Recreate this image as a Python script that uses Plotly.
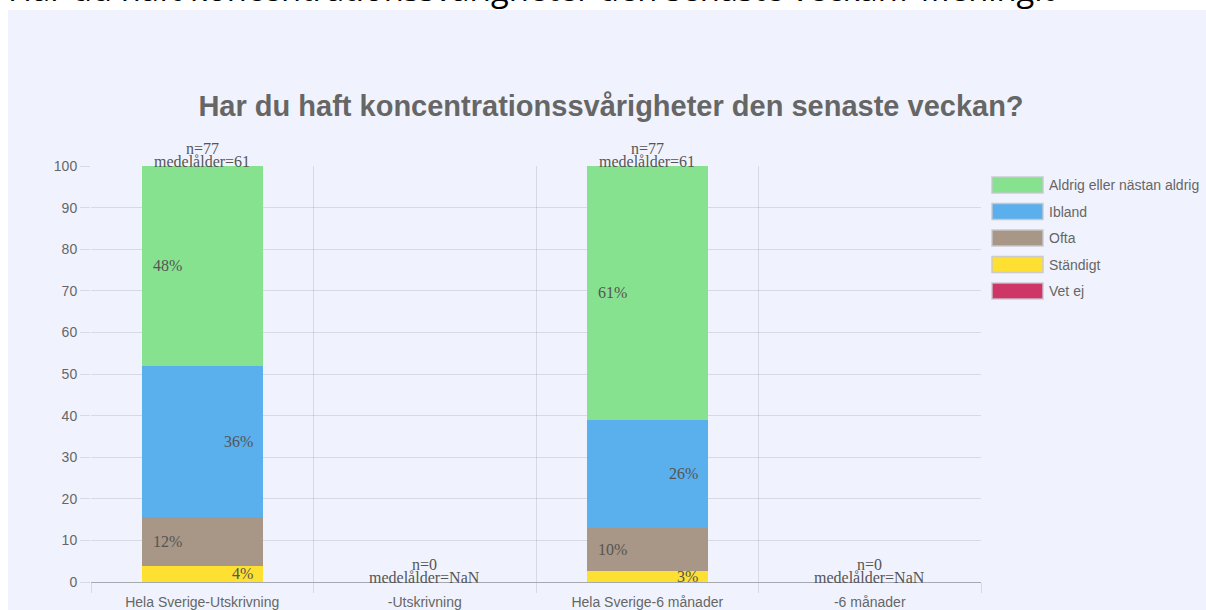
import plotly.graph_objects as go

# ---- data ----
categories = ["Hela Sverige-Utskrivning", "-Utskrivning", "Hela Sverige-6 månader", "-6 månader"]
series_names = ["Ständigt", "Ofta", "Ibland", "Aldrig eller nästan aldrig", "Vet ej"]
standigt = [3.9, 0, 2.6, 0]
ofta = [11.7, 0, 10.4, 0]
ibland = [36.4, 0, 26.0, 0]
aldrig = [48.0, 0, 61.0, 0]
vet_ej = [0, 0, 0, 0]
n_values = [77, 0, 77, 0]
medelalder = ["61", "NaN", "61", "NaN"]
legend_order = ["Aldrig eller nästan aldrig", "Ibland", "Ofta", "Ständigt", "Vet ej"]
y_ticks = [0, 10, 20, 30, 40, 50, 60, 70, 80, 90, 100]

colors = {
    "Ständigt": "#FDE031",
    "Ofta": "#A89686",
    "Ibland": "#5AAFED",
    "Aldrig eller nästan aldrig": "#86E28E",
    "Vet ej": "#CF3668",
}
series_values = [standigt, ofta, ibland, aldrig, vet_ej]

W, H = 1206, 610
L, R, T, B = 91, 981, 166, 582
panel = "#F0F3FD"

def px_x(px):
    return (px - L) / (R - L)

def px_y(py):
    return (B - py) / (B - T)

fig = go.Figure()
for name, vals in zip(series_names, series_values):
    fig.add_trace(go.Bar(
        x=categories, y=vals, name=name,
        marker=dict(color=colors[name], line=dict(width=0)),
        showlegend=False, hoverinfo="skip",
    ))

annotations = []
serif = "Liberation Serif, Times New Roman, serif"
sans = "Liberation Sans, Arial, sans-serif"
half = 0.271
# percentage labels
for i in range(len(categories)):
    base = 0.0
    for k, vals in enumerate(series_values):
        v = vals[i]
        if v > 0:
            mid = base + v / 2
            if k % 2 == 0:
                annotations.append(dict(x=i + half, y=mid, xref="x", yref="y",
                                        text=f"{round(v)}%", showarrow=False,
                                        xanchor="right", yanchor="middle", xshift=-8,
                                        font=dict(family=serif, size=16, color="#555555")))
            else:
                annotations.append(dict(x=i - half, y=mid, xref="x", yref="y",
                                        text=f"{round(v)}%", showarrow=False,
                                        xanchor="left", yanchor="middle", xshift=9,
                                        font=dict(family=serif, size=16, color="#555555")))
        base += v
    total = sum(vals[i] for vals in series_values)
    annotations.append(dict(x=i, y=total, xref="x", yref="y", text=f"n={n_values[i]}",
                            showarrow=False, xanchor="center", yanchor="middle", yshift=18,
                            font=dict(family=serif, size=16, color="#555555")))
    annotations.append(dict(x=i, y=total, xref="x", yref="y", text=f"medelålder={medelalder[i]}",
                            showarrow=False, xanchor="center", yanchor="middle", yshift=5,
                            font=dict(family=serif, size=16, color="#555555")))

# manual legend
shapes = []
for j, name in enumerate(legend_order):
    cy = 185 + j * 26.5
    shapes.append(dict(type="rect", xref="paper", yref="paper",
                       x0=px_x(992), x1=px_x(1043), y0=px_y(cy - 8), y1=px_y(cy + 8),
                       fillcolor=colors[name], line=dict(color="rgba(200,200,205,0.9)", width=1.5)))
    annotations.append(dict(x=px_x(1047), y=px_y(cy), xref="paper", yref="paper", text=name,
                            showarrow=False, xanchor="left", yanchor="middle",
                            font=dict(family=sans, size=14, color="#666666")))

# white page strips around panel
shapes.append(dict(type="rect", xref="paper", yref="paper", layer="below",
                   x0=px_x(-5), x1=px_x(8), y0=px_y(620), y1=px_y(-5),
                   fillcolor="white", line=dict(width=0)))
shapes.append(dict(type="rect", xref="paper", yref="paper", layer="below",
                   x0=px_x(-5), x1=px_x(1215), y0=px_y(10), y1=px_y(-5),
                   fillcolor="white", line=dict(width=0)))

# cut-off document heading at very top
annotations.append(dict(x=px_x(6), y=px_y(13.5), xref="paper", yref="paper",
                        text="Har du haft koncentrationssvårigheter den senaste veckan? Meningit",
                        showarrow=False, xanchor="left", yanchor="bottom",
                        font=dict(family="Open Sans, Noto Sans, sans-serif", size=32.7, color="black")))

fig.update_layout(
    width=W, height=H,
    margin=dict(l=L, r=W - R, t=T, b=H - B, autoexpand=False),
    paper_bgcolor=panel, plot_bgcolor=panel,
    barmode="stack", bargap=0.458,
    title=dict(text="<b>Har du haft koncentrationssvårigheter den senaste veckan?</b>",
               x=611 / W, xanchor="center", xref="container",
               y=1 - 106 / H, yanchor="middle", yref="container",
               font=dict(family=sans, size=29, color="#666666")),
    xaxis=dict(type="category", tickson="boundaries", ticks="outside", ticklen=10,
               tickcolor="rgba(0,0,0,0.1)", showgrid=True, gridcolor="rgba(0,0,0,0.1)",
               showline=True, linecolor="rgba(0,0,0,0.3)", linewidth=1,
               ticklabelstandoff=7,
               tickfont=dict(family=sans, size=14, color="#666666"),
               automargin=False, range=[-0.5, 3.5], fixedrange=True),
    yaxis=dict(range=[0, 100], tickvals=y_ticks, ticks="outside", ticklen=10,
               tickcolor="rgba(0,0,0,0.1)", showgrid=True, gridcolor="rgba(0,0,0,0.1)",
               zeroline=False, showline=False,
               tickfont=dict(family=sans, size=14, color="#666666"),
               automargin=False, fixedrange=True),
    shapes=shapes, annotations=annotations,
)

fig.write_html("out.html", config={"displayModeBar": False},
               post_script="document.body.style.margin='0';")
